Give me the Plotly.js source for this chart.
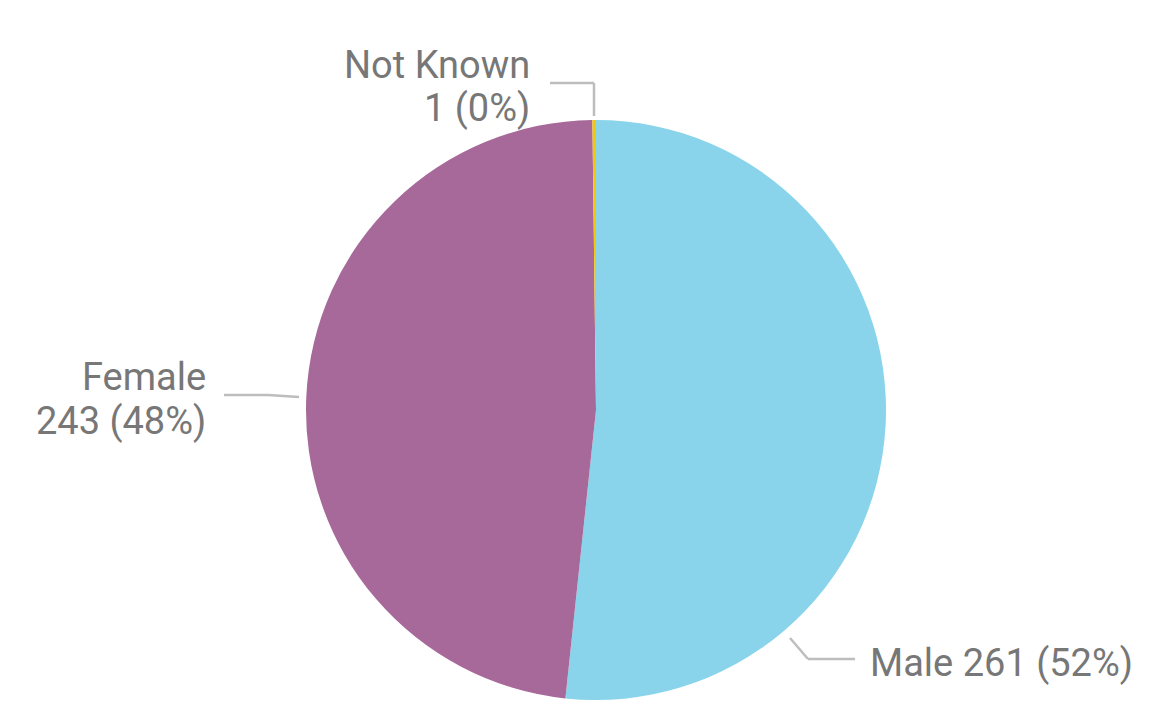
<!DOCTYPE html>
<html>
<head>
<meta charset="utf-8">
<script src="https://cdn.plot.ly/plotly-3.0.1.min.js"></script>
<style>html,body{margin:0;padding:0;background:#fff;}#chart{width:1153px;height:702px;}</style>
</head>
<body>
<div id="chart"></div>
<script>
const categories = ["Male", "Female", "Not Known"];
const counts = [261, 243, 1];
const colors = ["#8AD4EB", "#A66999", "#F2C80F"];

const W = 1153, H = 702;
const cx = 596, cy = 410, R = 290;
const total = counts.reduce((a, b) => a + b, 0);
const pct = counts.map(v => Math.round(v / total * 100));
const lbl = categories.map((c, i) => ({name: c, text: counts[i] + " (" + pct[i] + "%)"}));

const px = x => x / W;
const py = y => 1 - y / H;

const trace = {
  type: "pie",
  labels: categories,
  values: counts,
  sort: false,
  direction: "clockwise",
  rotation: 0,
  marker: {colors: colors, line: {color: "#ffffff", width: 0}},
  textinfo: "none",
  hoverinfo: "label+value+percent",
  domain: {x: [px(cx - R), px(cx + R)], y: [py(cy + R), py(cy - R)]},
  showlegend: false
};

const lineStyle = {color: "#BDBDBD", width: 2.5};
const seg = (x0, y0, x1, y1) => ({type: "line", xref: "paper", yref: "paper",
  x0: px(x0), y0: py(y0), x1: px(x1), y1: py(y1), line: lineStyle});

const shapes = [
  seg(790, 638, 808, 659), seg(808, 659, 855, 659),
  seg(299, 397, 268, 395), seg(268, 395, 224, 395),
  seg(594, 116, 594, 83), seg(594, 83, 550, 83)
];

const font = {family: "Roboto, 'Open Sans', sans-serif", size: 38, color: "#777777"};
const ann = (x, y, xanchor, text) => ({x: px(x), y: py(y), xref: "paper", yref: "paper",
  xanchor: xanchor, yanchor: "middle", text: text, showarrow: false, font: font});
const annotations = [
  ann(868, 663, "left", lbl[0].name + " " + lbl[0].text),
  ann(208, 377, "right", lbl[1].name),
  ann(208, 421, "right", lbl[1].text),
  ann(532, 65, "right", lbl[2].name),
  ann(532, 108, "right", lbl[2].text)
];

const layout = {
  width: W, height: H,
  margin: {l: 0, r: 0, t: 0, b: 0},
  paper_bgcolor: "#ffffff",
  shapes: shapes,
  annotations: annotations
};

Plotly.newPlot("chart", [trace], layout, {displayModeBar: false});
</script>
</body>
</html>
